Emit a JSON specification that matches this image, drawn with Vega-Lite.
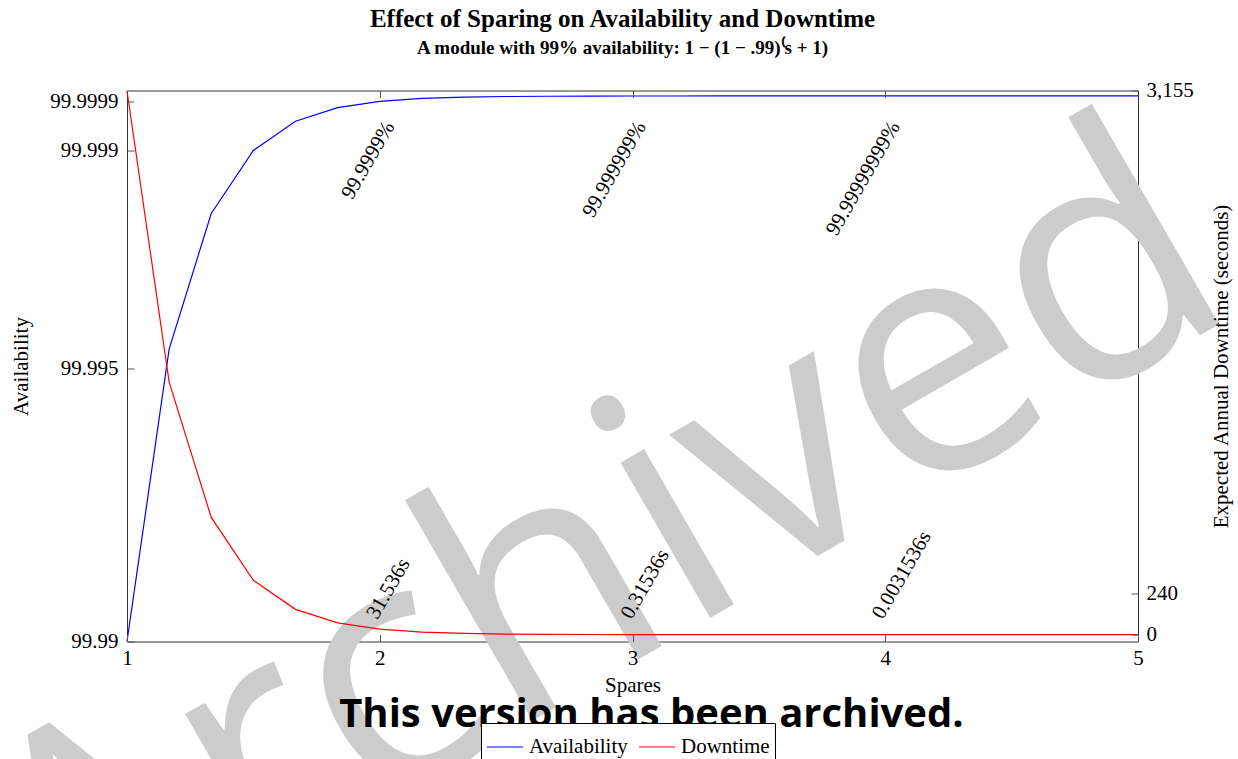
{
  "$schema": "https://vega.github.io/schema/vega-lite/v6.json",
  "width": 1011,
  "height": 551,
  "autosize": {"type": "none"},
  "padding": {"left": 127, "top": 90.5, "right": 100, "bottom": 117.5},
  "title": {
    "text": "Effect of Sparing on Availability and Downtime",
    "subtitle": "A module with 99% availability: 1 − (1 − .99)⁽s + 1)",
    "font": "Liberation Serif",
    "fontSize": 25,
    "fontWeight": "bold",
    "color": "black",
    "subtitleFont": "Liberation Serif",
    "subtitleFontSize": 19,
    "subtitleFontWeight": "bold",
    "subtitleColor": "black",
    "subtitlePadding": 7,
    "anchor": "middle",
    "frame": "group",
    "dx": -10,
    "offset": 20
  },
  "datasets": {
    "curves": [
      {"spares": 1, "availability": 99.99, "downtime": 3153.6},
      {"spares": 1.1667, "availability": 99.995358, "downtime": 1463.77},
      {"spares": 1.3333, "availability": 99.997846, "downtime": 679.42},
      {"spares": 1.5, "availability": 99.999, "downtime": 315.36},
      {"spares": 1.6667, "availability": 99.999536, "downtime": 146.38},
      {"spares": 1.8333, "availability": 99.999785, "downtime": 67.94},
      {"spares": 2, "availability": 99.9999, "downtime": 31.536},
      {"spares": 2.1667, "availability": 99.999954, "downtime": 14.638},
      {"spares": 2.3333, "availability": 99.999978, "downtime": 6.794},
      {"spares": 2.5, "availability": 99.99999, "downtime": 3.1536},
      {"spares": 2.6667, "availability": 99.999995, "downtime": 1.4638},
      {"spares": 2.8333, "availability": 99.999998, "downtime": 0.6794},
      {"spares": 3, "availability": 99.999999, "downtime": 0.31536},
      {"spares": 3.1667, "availability": 99.9999995, "downtime": 0.14638},
      {"spares": 3.3333, "availability": 99.9999998, "downtime": 0.06794},
      {"spares": 3.5, "availability": 99.9999999, "downtime": 0.031536},
      {"spares": 3.6667, "availability": 99.99999995, "downtime": 0.014638},
      {"spares": 3.8333, "availability": 99.99999998, "downtime": 0.006794},
      {"spares": 4, "availability": 99.99999999, "downtime": 0.0031536},
      {"spares": 4.1667, "availability": 99.999999995, "downtime": 0.0014638},
      {"spares": 4.3333, "availability": 99.999999998, "downtime": 0.0006794},
      {"spares": 4.5, "availability": 99.999999999, "downtime": 0.00031536},
      {"spares": 4.6667, "availability": 100, "downtime": 0.00014638},
      {"spares": 4.8333, "availability": 100, "downtime": 0.00006794},
      {"spares": 5, "availability": 100, "downtime": 0.000031536}
    ],
    "availLabels": [
      {"x": 2.04, "y": 99.9995, "label": "99.9999%"},
      {"x": 3.035, "y": 99.9995, "label": "99.999999%"},
      {"x": 4.04, "y": 99.9995, "label": "99.99999999%"}
    ],
    "downLabels": [
      {"x": 1.97, "y": 100, "label": "31.536s"},
      {"x": 2.975, "y": 100, "label": "0.31536s"},
      {"x": 3.97, "y": 100, "label": "0.0031536s"}
    ],
    "watermark": [
      {"x": 3.09, "y": 99.98985, "label": "Archived"}
    ],
    "notice": [
      {"x": 3.075, "y": 99.98843, "label": "This version has been archived."}
    ]
  },
  "config": {
    "font": "Liberation Serif",
    "view": {"stroke": "#333333", "strokeWidth": 1},
    "axis": {
      "domain": false,
      "grid": false,
      "labelFont": "Liberation Serif",
      "labelFontSize": 21,
      "labelColor": "black",
      "titleFont": "Liberation Serif",
      "titleFontSize": 21,
      "titleFontWeight": "normal",
      "titleColor": "black",
      "tickColor": "#555555",
      "tickSize": -7,
      "tickWidth": 1
    },
    "legend": {
      "labelFont": "Liberation Serif",
      "labelFontSize": 21,
      "labelColor": "black",
      "strokeColor": "black",
      "fillColor": "white",
      "padding": 5,
      "columnPadding": 8,
      "labelOffset": 5,
      "symbolSize": 1296,
      "symbolStrokeWidth": 1.2,
      "symbolType": "stroke"
    }
  },
  "resolve": {"scale": {"y": "independent"}, "axis": {"x": "independent"}},
  "layer": [
    {
      "layer": [
        {
          "data": {"name": "watermark"},
          "mark": {"type": "text", "font": "Open Sans", "fontSize": 335, "fontWeight": "normal", "color": "#cccccc", "angle": 330, "align": "center", "baseline": "alphabetic"},
          "encoding": {
            "x": {"field": "x", "type": "quantitative", "scale": {"domain": [1, 5], "nice": false, "zero": false}},
            "y": {"field": "y", "type": "quantitative", "scale": {"domain": [99.99, 100.0001], "nice": false, "zero": false}},
            "text": {"field": "label"}
          }
        },
        {
          "data": {"name": "curves"},
          "mark": {"type": "line", "strokeWidth": 1.2},
          "encoding": {
            "x": {
              "field": "spares", "type": "quantitative",
              "scale": {"domain": [1, 5], "nice": false, "zero": false},
              "axis": {"orient": "bottom", "title": "Spares", "values": [1, 2, 3, 4, 5], "format": "d", "labelFlush": false, "labelPadding": 13, "titlePadding": 6, "zindex": 2}
            },
            "y": {
              "field": "availability", "type": "quantitative",
              "scale": {"domain": [99.99, 100.0001], "nice": false, "zero": false},
              "axis": {"orient": "left", "title": "Availability", "values": [99.99, 99.995, 99.999, 99.9999], "format": ".6~r", "labelFlush": false, "labelPadding": 16, "titlePadding": 18, "zindex": 2}
            },
            "color": {
              "datum": "Availability",
              "scale": {"domain": ["Availability", "Downtime"], "range": ["#0000ff", "#ff0000"]},
              "legend": {"title": null, "orient": "none", "direction": "horizontal", "columns": 2, "legendX": 354, "legendY": 632.5}
            }
          }
        },
        {
          "data": {"name": "availLabels"},
          "mark": {"type": "text", "font": "Liberation Serif", "fontSize": 21, "color": "black", "angle": 300, "align": "right", "baseline": "middle"},
          "encoding": {
            "x": {"field": "x", "type": "quantitative", "scale": {"domain": [1, 5], "nice": false, "zero": false}},
            "y": {"field": "y", "type": "quantitative", "scale": {"domain": [99.99, 100.0001], "nice": false, "zero": false}},
            "text": {"field": "label"}
          }
        },
        {
          "data": {"name": "notice"},
          "mark": {"type": "text", "font": "Open Sans", "fontSize": 40, "fontWeight": "bold", "color": "black", "align": "center", "baseline": "alphabetic"},
          "encoding": {
            "x": {"field": "x", "type": "quantitative", "scale": {"domain": [1, 5], "nice": false, "zero": false}},
            "y": {"field": "y", "type": "quantitative", "scale": {"domain": [99.99, 100.0001], "nice": false, "zero": false}},
            "text": {"field": "label"}
          }
        }
      ]
    },
    {
      "layer": [
        {
          "data": {"name": "curves"},
          "mark": {"type": "line", "strokeWidth": 1.2},
          "encoding": {
            "x": {
              "field": "spares", "type": "quantitative",
              "scale": {"domain": [1, 5], "nice": false, "zero": false},
              "axis": {"orient": "top", "title": null, "labels": false, "values": [2, 3, 4], "zindex": 2}
            },
            "y": {
              "field": "downtime", "type": "quantitative",
              "scale": {"domain": [-40, 3155], "nice": false, "zero": false},
              "axis": {"orient": "right", "title": "Expected Annual Downtime (seconds)", "titleAngle": -90, "titleBaseline": "top", "values": [0, 240, 3155], "format": ",.0f", "labelFlush": false, "labelPadding": 15, "titlePadding": 17, "zindex": 2}
            },
            "color": {
              "datum": "Downtime",
              "scale": {"domain": ["Availability", "Downtime"], "range": ["#0000ff", "#ff0000"]}
            }
          }
        },
        {
          "data": {"name": "downLabels"},
          "mark": {"type": "text", "font": "Liberation Serif", "fontSize": 21, "color": "black", "angle": 300, "align": "left", "baseline": "middle"},
          "encoding": {
            "x": {"field": "x", "type": "quantitative", "scale": {"domain": [1, 5], "nice": false, "zero": false}},
            "y": {"field": "y", "type": "quantitative", "scale": {"domain": [-40, 3155], "nice": false, "zero": false}},
            "text": {"field": "label"}
          }
        }
      ]
    }
  ]
}
